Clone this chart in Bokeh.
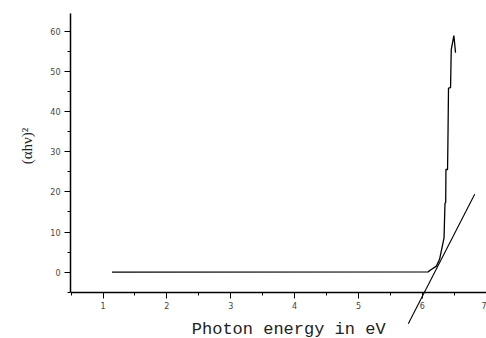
from bokeh.plotting import figure
from bokeh.models import Range1d, FixedTicker
from bokeh.embed import file_html
from bokeh.resources import INLINE

# data
curve_x = [1.14, 6.09, 6.14, 6.22, 6.27, 6.34, 6.355, 6.366, 6.37, 6.395,
           6.40, 6.41, 6.442, 6.453, 6.494, 6.52]
curve_y = [0.0, 0.07, 0.67, 1.5, 3.2, 8.55, 17.2, 17.3, 25.6, 25.6,
           31.4, 45.9, 46.0, 55.5, 59.0, 54.7]
tangent_x = [5.78, 6.82]
tangent_y = [-12.9, 19.4]
x_ticks = [1, 2, 3, 4, 5, 6, 7]
y_ticks = [0, 10, 20, 30, 40, 50, 60]
x_axis_title = "Photon energy in eV"
y_axis_title = "(αhν)²"

p = figure(width=486, height=338, output_backend="svg", toolbar_location=None,
           x_range=Range1d(0.49, 7.005), y_range=Range1d(-16.55, 64.5),
           min_border_left=70, min_border_top=13, min_border_right=0, min_border_bottom=0)
p.outline_line_color = None
p.grid.visible = False
p.background_fill_color = "white"
p.border_fill_color = "white"

p.line(curve_x, curve_y, line_color="black", line_width=1.3)
p.line(tangent_x, tangent_y, line_color="black", line_width=1.1)

xa = p.xaxis[0]
xa.fixed_location = -5.2
xa.bounds = (0.49, 7.005)
xa.ticker = FixedTicker(ticks=x_ticks, minor_ticks=[v + 0.5 for v in [0] + x_ticks[:-1]])
ya = p.yaxis[0]
ya.bounds = (-5.2, 64.5)
ya.ticker = FixedTicker(ticks=y_ticks, minor_ticks=[-5] + [v + 5 for v in y_ticks])

for ax in (xa, ya):
    ax.axis_line_color = "black"
    ax.axis_line_width = 1.5
    ax.major_tick_line_color = "black"
    ax.minor_tick_line_color = "black"
    ax.major_tick_in = 0
    ax.major_tick_out = 6
    ax.minor_tick_in = 0
    ax.minor_tick_out = 3
    ax.major_label_text_font = "DejaVu Sans"
    ax.major_label_text_font_size = "8px"
    ax.major_label_text_color = "#444444"

# leading spaces nudge the centred titles to where the reference has them
xa.axis_label = "\u00a0\u00a0" + x_axis_title
xa.axis_label_text_font = "Liberation Mono"
xa.axis_label_text_font_size = "17px"
xa.axis_label_text_font_style = "normal"
xa.axis_label_text_color = "#222222"
xa.axis_label_standoff = 8
xa.major_label_standoff = 3

ya.axis_label = "\u2003\u2003\u2003\u2003" + y_axis_title
ya.axis_label_text_font = "Liberation Serif"
ya.axis_label_text_font_size = "15px"
ya.axis_label_text_font_style = "normal"
ya.axis_label_text_color = "#222222"
ya.axis_label_standoff = 12
ya.major_label_standoff = 4

open("out.html", "w").write(file_html(p, INLINE))
